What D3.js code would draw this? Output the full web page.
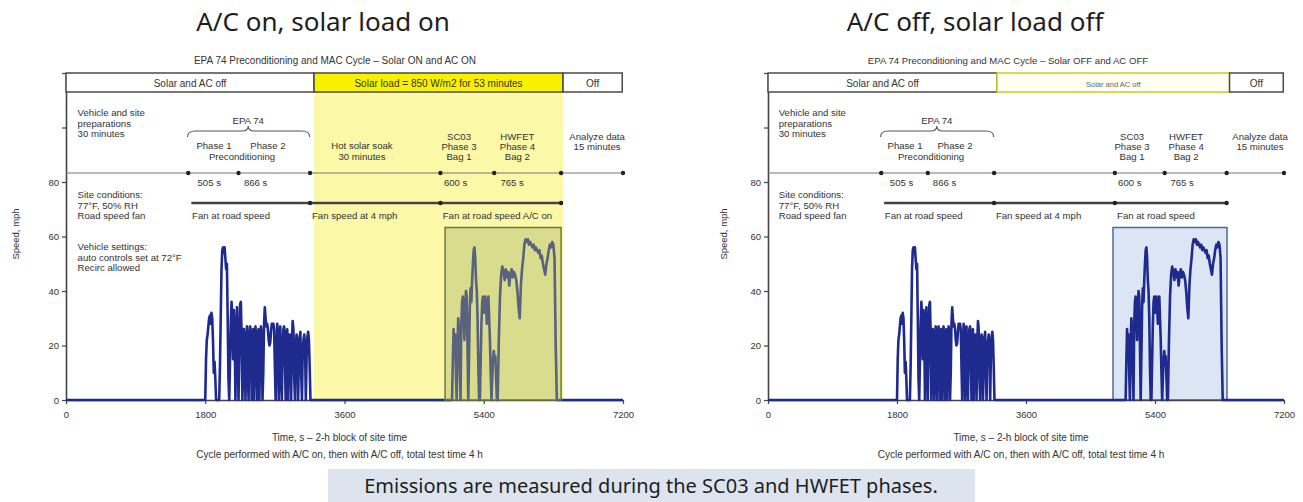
<!DOCTYPE html>
<html>
<head>
<meta charset="utf-8">
<script src="https://cdn.jsdelivr.net/npm/d3@7"></script>
<style>
  body { margin: 0; background: #fff; }
  svg { display: block; }
  .small { font-family: "Liberation Sans", Arial, sans-serif; font-size: 9.6px; fill: #333; }
  .tick text { font-family: "Liberation Sans", Arial, sans-serif; font-size: 9.5px; fill: #333; }
</style>
</head>
<body>
<svg id="chart" width="1303" height="502"></svg>
<script>
// speed traces, mph
var uddsStart = 1800, uddsStep = 10;
var udds = [
  0, 15, 22, 24, 27, 30, 31, 28, 32, 30,
  22, 10, 14, 8, 0, 0, 0, 0, 0, 12,
  30, 48, 55, 56, 54, 56, 52, 48, 50, 30,
  8, 0, 14, 28, 36, 30, 15, 33, 26, 0,
  20, 34, 22, 0, 18, 35, 36, 24, 0, 12,
  26, 22, 0, 20, 27, 10, 0, 24, 27, 25,
  0, 18, 26, 0, 22, 27, 14, 0, 25, 26,
  0, 20, 27, 24, 0, 10, 28, 34, 30, 27,
  28, 26, 22, 20, 21, 25, 28, 27, 28, 26,
  12, 0, 18, 28, 24, 0, 22, 27, 8, 0,
  20, 26, 27, 14, 0, 25, 26, 0, 18, 24,
  20, 0, 22, 29, 26, 8, 0, 20, 24, 22,
  0, 14, 23, 25, 10, 0, 18, 22, 24, 20,
  0, 16, 23, 25, 22, 12, 0, 0
];
var sc03Start = 4990, sc03Step = 10;
var sc03 = [
  0, 14, 26, 18, 24,
  10, 0, 20, 30, 26, 12,
  0, 28, 36, 38, 30,
  22, 34, 40, 38, 20, 0,
  16, 34, 41, 36, 44,
  50, 55, 56, 52, 44, 40, 30, 12,
  0, 0, 14,
  28, 36, 38, 32, 36, 38, 34, 28, 35, 38, 30,
  22, 10, 0, 8,
  15, 18, 14, 16, 8, 0
];
var hwfetStart = 5580, hwfetStep = 15;
var hwfet = [
  0, 22, 38, 46, 49, 47, 44, 48, 45, 47,
  42, 46, 48, 45, 47, 46, 44, 40, 34, 30,
  42, 48, 52, 57, 59, 58, 59, 57, 58, 57,
  56, 57, 55, 56, 55, 54, 55, 52, 53, 50,
  48, 46, 50, 52, 55, 57, 56, 58, 57, 52,
  20, 0
];

var xTicks = [0, 1800, 3600, 5400, 7200];
var yTicks = [0, 20, 40, 60, 80, 100, 120];
var yLabelled = [0, 20, 40, 60, 80];

// timeline (s)
var timelineMarks = [1580, 2230, 3155, 4840, 5535, 6400];
var fanMarks = [3155, 4840, 6400];
var fanFrom = 1620;
var brace = [1570, 2355, 3150];

var headerOn = [
  { from: 0, to: 3206, label: "Solar and AC off" },
  { from: 3206, to: 6425, label: "Solar load = 850 W/m2 for 53 minutes" },
  { from: 6425, to: 7190, label: "Off" }
];
var headerOff = [
  { from: 0, to: 3195, label: "Solar and AC off" },
  { from: 3195, to: 6440, label: "Solar and AC off" },
  { from: 6440, to: 7190, label: "Off" }
];

var phaseLabels = [
  { t: 2355, row: 0, lines: ["EPA 74"] },
  { t: 1913, row: 1, lines: ["Phase 1"] },
  { t: 2610, row: 1, lines: ["Phase 2"] },
  { t: 2275, row: 2, lines: ["Preconditioning"] },
  { t: 5080, row: 3, lines: ["SC03", "Phase 3", "Bag 1"] },
  { t: 5835, row: 3, lines: ["HWFET", "Phase 4", "Bag 2"] },
  { t: 6865, row: 3, lines: ["Analyze data", "15 minutes"] }
];
var durations = [
  { t: 1700, label: "505 s" },
  { t: 2300, label: "866 s" },
  { t: 4885, label: "600 s" },
  { t: 5615, label: "765 s" }
];

var panels = [
  {
    x0: 66, x1: 623, titleX: 323, subX: 335,
    title: "A/C on, solar load on",
    sub: "EPA 74 Preconditioning and MAC Cycle \u2013 Solar ON and AC ON",
    header: headerOn, solar: [3206, 6425], box: [4900, 6400],
    fanLabels: ["Fan at road speed", "Fan speed at 4 mph", "Fan at road speed A/C on"],
    soak: true, settings: true, ylabX: 16
  },
  {
    x0: 768, x1: 1284, titleX: 975, subX: 1008,
    title: "A/C off, solar load off",
    sub: "EPA 74 Preconditioning and MAC Cycle \u2013 Solar OFF and AC OFF",
    header: headerOff, solar: null, box: [4814, 6405],
    fanLabels: ["Fan at road speed", "Fan speed at 4 mph", "Fan at road speed"],
    soak: false, settings: false, ylabX: 724
  }
];

var svg = d3.select("#chart");

var series = [{ t: 0, v: 0 }, { t: uddsStart - 1, v: 0 }];
udds.forEach(function(v, i) { series.push({ t: uddsStart + i * uddsStep, v: v }); });
sc03.forEach(function(v, i) { series.push({ t: sc03Start + i * sc03Step, v: v }); });
hwfet.forEach(function(v, i) { series.push({ t: hwfetStart + i * hwfetStep, v: v }); });
series.push({ t: 7200, v: 0 });

var yTop = 73, yBase = 400;
var y = d3.scaleLinear().domain([0, 120]).range([yBase, yTop]);

panels.forEach(function(p, pi) {
  var x = d3.scaleLinear().domain([0, 7200]).range([p.x0, p.x1]);
  var g = svg.append("g");

  // titles
  g.append("text").attr("x", p.titleX).attr("y", 31).attr("text-anchor", "middle")
    .style("font-family", "'Noto Sans', sans-serif").style("font-size", "26px").style("fill", "#1e1e1e")
    .text(p.title);
  g.append("text").attr("class", "small").attr("x", p.subX).attr("y", 64).attr("text-anchor", "middle")
    .style("font-size", pi == 0 ? "10px" : "9.6px")
    .text(p.sub);

  // solar band
  if (p.solar) {
    g.append("rect").attr("x", x(p.solar[0])).attr("y", yTop)
      .attr("width", x(p.solar[1]) - x(p.solar[0])).attr("height", yBase - yTop)
      .style("fill", "#fbf8a8");
  }

  // measurement box (under the trace on the right panel)
  if (pi == 1) {
    g.append("rect").attr("x", x(p.box[0])).attr("y", y(63.3))
      .attr("width", x(p.box[1]) - x(p.box[0])).attr("height", yBase - y(63.3))
      .style("fill", "#dbe5f3").style("stroke", "#4f6b96").style("stroke-width", 1.5);
  }

  // axes
  var xAxis = g.append("g").attr("transform", "translate(0," + yBase + ")")
    .call(d3.axisBottom(x).tickValues(xTicks).tickSize(4).tickSizeOuter(0).tickFormat(d3.format("d")));
  var yAxis = g.append("g").attr("transform", "translate(" + p.x0 + ",0)")
    .call(d3.axisLeft(y).tickValues(yTicks).tickSize(4).tickSizeOuter(0)
      .tickFormat(function(d) { return yLabelled.indexOf(d) >= 0 ? d : ""; }));
  [xAxis, yAxis].forEach(function(a) {
    a.select(".domain").style("stroke", "#444").style("stroke-width", 1.6);
    a.selectAll(".tick line").style("stroke", "#444").style("stroke-width", 1.2);
  });
  xAxis.selectAll(".tick text").attr("dy", "1.15em");

  // speed trace
  var line = d3.line().x(function(d) { return x(d.t); }).y(function(d) { return y(d.v); });
  g.append("path").datum(series).attr("d", line)
    .style("fill", "none").style("stroke", "#1f2a8e").style("stroke-width", 2.6)
    .style("stroke-linejoin", "round");

  // measurement box overlay on the left panel
  if (pi == 0) {
    g.append("rect").attr("x", x(p.box[0])).attr("y", y(63.3))
      .attr("width", x(p.box[1]) - x(p.box[0])).attr("height", yBase - y(63.3))
      .style("fill", "rgba(170,178,104,0.42)").style("stroke", "#6b7a3c").style("stroke-width", 1.5);
  }

  // header row
  p.header.forEach(function(c, ci) {
    var mid = pi == 1 && ci == 1;
    g.append("rect").attr("x", x(c.from)).attr("y", yTop)
      .attr("width", x(c.to) - x(c.from)).attr("height", 19)
      .style("fill", pi == 0 && ci == 1 ? "#f7f000" : (mid ? "#fffff2" : "#fff"))
      .style("stroke", mid ? "#c4cf1c" : "#4a4a4a").style("stroke-width", 1.5);
    g.append("text").attr("class", "small").attr("x", (x(c.from) + x(c.to)) / 2).attr("y", yTop + 13.5)
      .attr("text-anchor", "middle").style("font-size", mid ? "7.5px" : "10px")
      .style("fill", mid ? "#666" : "#333")
      .text(c.label);
  });

  // left notes
  var notes = [["Vehicle and site", "preparations", "30 minutes"], ["Site conditions:", "77\u00b0F, 50% RH", "Road speed fan"]];
  if (p.settings) notes.push(["Vehicle settings:", "auto controls set at 72\u00b0F", "Recirc allowed"]);
  var noteY = [116, 198, 250];
  notes.forEach(function(n, ni) {
    n.forEach(function(s, li) {
      g.append("text").attr("class", "small").attr("x", x(150)).attr("y", noteY[ni] + li * 10.5).text(s);
    });
  });

  // brace over EPA 74
  var bx0 = x(brace[0]), bm = x(brace[1]), bx1 = x(brace[2]);
  g.append("path")
    .attr("d", "M" + bx0 + ",137 Q" + bx0 + ",131 " + (bx0 + 8) + ",131 L" + (bm - 6) + ",131 Q" + bm + ",131 " + bm + ",126 Q" + bm + ",131 " + (bm + 6) + ",131 L" + (bx1 - 8) + ",131 Q" + bx1 + ",131 " + bx1 + ",137")
    .style("fill", "none").style("stroke", "#555").style("stroke-width", 1.1);

  // phase labels
  var rowY = [124, 149, 160, 140];
  phaseLabels.forEach(function(l) {
    l.lines.forEach(function(s, li) {
      g.append("text").attr("class", "small").attr("x", x(l.t)).attr("y", rowY[l.row] + li * 10)
        .attr("text-anchor", "middle").text(s);
    });
  });
  if (p.soak) {
    ["Hot solar soak", "30 minutes"].forEach(function(s, li) {
      g.append("text").attr("class", "small").attr("x", x(3826)).attr("y", 149 + li * 10.5)
        .attr("text-anchor", "middle").text(s);
    });
  }

  // timeline
  g.append("line").attr("x1", p.x0).attr("x2", x(7200)).attr("y1", 173).attr("y2", 173)
    .style("stroke", "#777").style("stroke-width", 1.2);
  g.selectAll(".tm" + pi).data(timelineMarks.concat([7200])).enter().append("circle")
    .attr("cx", function(d) { return x(d); }).attr("cy", 173).attr("r", 2.2).style("fill", "#222");
  durations.forEach(function(d) {
    g.append("text").attr("class", "small").attr("x", x(d.t)).attr("y", 186).text(d.label);
  });

  // fan line
  g.append("line").attr("x1", x(fanFrom)).attr("x2", x(fanMarks[fanMarks.length - 1])).attr("y1", 203).attr("y2", 203)
    .style("stroke", "#444").style("stroke-width", 2.4);
  g.selectAll(".fm" + pi).data(fanMarks).enter().append("circle")
    .attr("cx", function(d) { return x(d); }).attr("cy", 203).attr("r", 2.2).style("fill", "#222");
  [fanFrom + 10, 3180, 4870].forEach(function(t, i) {
    g.append("text").attr("class", "small").attr("x", x(t)).attr("y", 219).text(p.fanLabels[i]);
  });

  // axis titles
  g.append("text").attr("class", "small").attr("transform", "translate(" + (p.ylabX + 3) + ",234) rotate(-90)")
    .attr("text-anchor", "middle").style("font-size", "9.5px").text("Speed, mph");
  var cx = (p.x0 + p.x1) / 2 - 5;
  g.append("text").attr("class", "small").attr("x", cx).attr("y", 441).attr("text-anchor", "middle")
    .style("font-size", "10px").text("Time, s \u2013 2-h block of site time");
  g.append("text").attr("class", "small").attr("x", cx).attr("y", 458).attr("text-anchor", "middle")
    .style("font-size", "10px").text("Cycle performed with A/C on, then with A/C off, total test time 4 h");
});

// caption
svg.append("rect").attr("x", 328).attr("y", 469).attr("width", 647).attr("height", 33).style("fill", "#dde4ee");
svg.append("text").attr("x", 651).attr("y", 493).attr("text-anchor", "middle")
  .style("font-family", "'Noto Sans', sans-serif").style("font-size", "20px").style("fill", "#1e1e1e")
  .text("Emissions are measured during the SC03 and HWFET phases.");
</script>
</body>
</html>
